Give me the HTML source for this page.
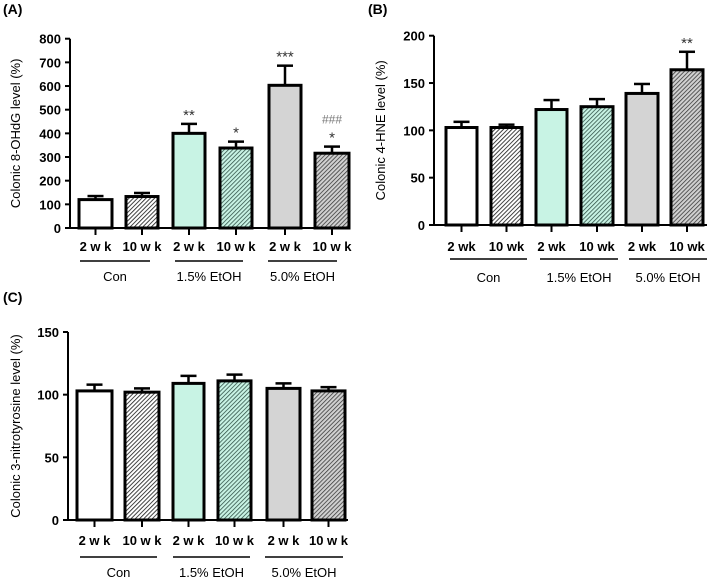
<!DOCTYPE html>
<html><head><meta charset="utf-8"><style>
body{margin:0;background:#fff;}
svg text{font-family:"Liberation Sans",Arial,sans-serif;}
</style></head><body>
<svg id="c" width="713" height="580" viewBox="0 0 713 580" xmlns="http://www.w3.org/2000/svg">
<defs>
<pattern id="hw" patternUnits="userSpaceOnUse" width="3" height="3" patternTransform="rotate(45)"><rect width="3" height="3" fill="#fff"/><line x1="0" y1="0" x2="0" y2="3" stroke="#222" stroke-width="1.7"/></pattern>
<pattern id="hm" patternUnits="userSpaceOnUse" width="3" height="3" patternTransform="rotate(45)"><rect width="3" height="3" fill="#c8f3e4"/><line x1="0" y1="0" x2="0" y2="3" stroke="#2a4a40" stroke-width="1.5"/></pattern>
<pattern id="hg" patternUnits="userSpaceOnUse" width="3" height="3" patternTransform="rotate(45)"><rect width="3" height="3" fill="#d0d0d0"/><line x1="0" y1="0" x2="0" y2="3" stroke="#333" stroke-width="1.5"/></pattern>
</defs>
<g id="root"></g>
</svg>
<script>
const weekLabels = ["2 w k","10 w k","2 w k","10 w k","2 w k","10 w k"];
const weekLabelsB = ["2 wk","10 wk","2 wk","10 wk","2 wk","10 wk"];
const groups = ["Con","1.5% EtOH","5.0% EtOH"];
const valuesA = [120,133,400,338,603,316];
const errorsA = [15,15,40,27,83,28];
const starsA = ["","","**","*","***","*"];
const valuesB = [103,103,122,125,139,164];
const errorsB = [6,3,10,8,10,19];
const starsB = ["","","","","","**"];
const valuesC = [103,102,109,111,105,103];
const errorsC = [5,3,6,5,4,3];
const ticksA = [0,100,200,300,400,500,600,700,800];
const ticksB = [0,50,100,150,200];
const ticksC = [0,50,100,150];
const fills = ["#fff","url(#hw)","#c8f3e4","url(#hm)","#d4d4d4","url(#hg)"];
const NS="http://www.w3.org/2000/svg";
const root=document.getElementById('root');
function mk(tag,attrs,parent,text){const e=document.createElementNS(NS,tag);for(const k in attrs)e.setAttribute(k,attrs[k]);if(text!==undefined)e.textContent=text;(parent||root).appendChild(e);return e;}
function panel(p){
  const g=mk('g',{});
  
  
  const y=v=>p.y0-(v/p.max)*(p.y0-p.ytop);
  const t=mk('text',{x:p.lx,y:p.ly,'font-size':14,'font-weight':'bold'},g,p.label);
  
  
  const ax=mk('path',{d:`M${p.ax} ${p.ytop}V${p.y0}H${p.axEnd}`,stroke:'#000','stroke-width':2,fill:'none'},g);
  
  
  p.ticks.forEach(v=>{
    mk('line',{x1:p.ax-5,x2:p.ax,y1:y(v),y2:y(v),stroke:'#000','stroke-width':2},g);
    const tl=mk('text',{x:p.ax-9,y:y(v)+5,'font-size':13,'font-weight':'bold','text-anchor':'end'},g,String(v));
    
    
  });
  const yt=mk('text',{x:p.tx,y:(p.ytop+p.y0)/2,'font-size':13,'text-anchor':'middle',transform:`rotate(-90 ${p.tx} ${(p.ytop+p.y0)/2})`},g,p.title);
  
  
  p.vals.forEach((v,i)=>{
    const x0=p.bx[i][0],x1=p.bx[i][1],cx=(x0+x1)/2,w=(x1-x0);
    const eTop=y(v+p.errs[i]);
    mk('line',{x1:cx,x2:cx,y1:y(v),y2:eTop,stroke:'#000','stroke-width':2.5},g);
    mk('line',{x1:cx-8,x2:cx+8,y1:eTop,y2:eTop,stroke:'#000','stroke-width':2.5},g);
    const b=mk('rect',{x:x0,y:y(v),width:w,height:p.y0-y(v),fill:fills[i],stroke:'#000','stroke-width':3},g);
    
    
    mk('line',{x1:cx,x2:cx,y1:p.y0,y2:p.y0+7,stroke:'#000','stroke-width':2},g);
    const wl=mk('text',{x:cx,y:p.wy,'font-size':13,'font-weight':'bold','text-anchor':'middle'},g,p.wk[i]);
    
    
    if(p.stars&&p.stars[i]){
      const s=mk('text',{x:cx,y:eTop-4,'font-size':15,fill:'#333','text-anchor':'middle'},g,p.stars[i]);
      
      
    }
  });
  groups.forEach((gn,j)=>{
    mk('line',{x1:p.gl[j][0],x2:p.gl[j][1],y1:p.gy,y2:p.gy,stroke:'#000','stroke-width':1.5},g);
    const gt=mk('text',{x:(p.gl[j][0]+p.gl[j][1])/2,y:p.gty,'font-size':13,'text-anchor':'middle'},g,gn);
    
    
  });
  return {g,y};
}
const A=panel({name:'panel-a',label:'(A)',lx:3,ly:14,ax:70,axEnd:350,y0:228,ytop:38.7,max:800,ticks:ticksA,tx:20,title:'Colonic 8-OHdG level (%)',
  vals:valuesA,errs:errorsA,stars:starsA,wk:weekLabels,wy:251,gy:261,gty:281,
  bx:[[79,112],[126,158],[173,205],[220,252],[269,301],[315,349]],gl:[[80,150],[175,243],[268,337]]});
const hA=mk('text',{x:332,y:A.y(valuesA[5]+errorsA[5])-23,'font-size':12,fill:'#777','text-anchor':'middle'},A.g,'###');


panel({name:'panel-b',label:'(B)',lx:368,ly:14,ax:434,axEnd:707,y0:225,ytop:35.7,max:200,ticks:ticksB,tx:385,title:'Colonic 4-HNE level (%)',
  vals:valuesB,errs:errorsB,stars:starsB,wk:weekLabelsB,wy:251,gy:259,gty:282,
  bx:[[446,477],[491,522],[536,567],[581,613],[626,658],[671,703]],gl:[[450,527],[540,618],[629,707]]});
panel({name:'panel-c',label:'(C)',lx:3,ly:302,ax:68,axEnd:348,y0:520,ytop:332,max:150,ticks:ticksC,tx:20,title:'Colonic 3-nitrotyrosine level (%)',
  vals:valuesC,errs:errorsC,stars:null,wk:weekLabels,wy:545,gy:557,gty:577,
  bx:[[77,112],[125,159],[173,204],[218,251],[267,300],[312,345]],gl:[[80,157],[173,250],[265,343]]});
</script>
</body></html>
